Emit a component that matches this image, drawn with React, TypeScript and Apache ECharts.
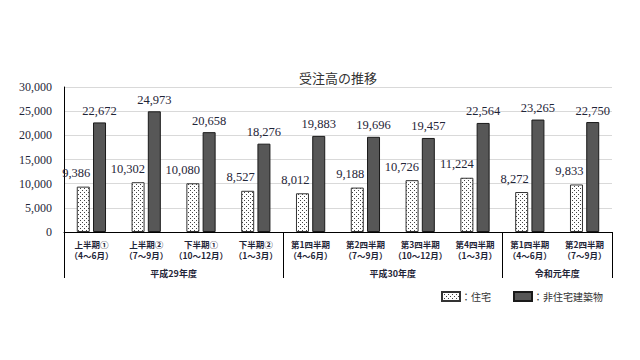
import React, { useEffect, useRef } from "react";
import * as echarts from "echarts";

const periodNames = ["上半期①", "上半期②", "下半期①", "下半期②", "第1四半期", "第2四半期", "第3四半期", "第4四半期", "第1四半期", "第2四半期"];
const periodMonths = ["（4～6月）", "（7～9月）", "（10～12月）", "（1～3月）", "（4～6月）", "（7～9月）", "（10～12月）", "（1～3月）", "（4～6月）", "（7～9月）"];
const housing = [9386, 10302, 10080, 8527, 8012, 9188, 10726, 11224, 8272, 9833];
const nonHousing = [22672, 24973, 20658, 18276, 19883, 19696, 19457, 22564, 23265, 22750];
const groupNames = ["平成29年度", "平成30年度", "令和元年度"];
const groupSizes = [4, 4, 2];
const seriesNames = ["住宅", "非住宅建築物"];

const SERIF = "'Liberation Serif', 'DejaVu Serif', serif";
const JP = "'Noto Sans CJK JP', sans-serif";
const INK = "#1f2538";

function makeDots() {
  const c = document.createElement("canvas");
  c.width = 4;
  c.height = 4;
  const ctx = c.getContext("2d")!;
  ctx.fillStyle = "#ffffff";
  ctx.fillRect(0, 0, 4, 4);
  ctx.fillStyle = "#444444";
  ctx.fillRect(0, 0, 1, 1);
  ctx.fillRect(2, 2, 1, 1);
  return c;
}

export default function App() {
  const ref = useRef<HTMLDivElement>(null);
  useEffect(() => {
    const chart = echarts.init(ref.current!, null, { renderer: "svg" });
    const dots = makeDots();
    const labelStyle = { show: true, position: "top", fontFamily: SERIF, fontSize: 12.5, color: INK };
    chart.setOption({
      animation: false,
      title: {
        text: "受注高の推移",
        left: 294,
        top: 66,
        textStyle: { fontFamily: JP, fontSize: 13, fontWeight: "normal", color: "#333" },
      },
      grid: { left: 64, right: 28, top: 87, bottom: 128 },
      legend: {
        left: 436,
        top: 286,
        itemWidth: 18,
        itemHeight: 9,
        itemGap: 22,
        icon: "rect",
        formatter: (n: string) => "：" + n,
        textStyle: { fontFamily: JP, fontSize: 10, color: "#333", padding: [0, 0, 0, -4] },
        data: seriesNames,
      },
      xAxis: {
        type: "category",
        data: periodNames.map((n, i) => n + periodMonths[i]),
        axisLine: { lineStyle: { color: "#000", width: 1 } },
        axisTick: { show: false },
        axisLabel: {
          interval: 0,
          margin: 6,
          fontFamily: JP,
          fontSize: 8.5,
          fontWeight: "bold",
          lineHeight: 11.5,
          color: INK,
          formatter: (_v: string, i: number) => periodNames[i] + "\n" + periodMonths[i],
        },
      },
      yAxis: {
        type: "value",
        min: 0,
        max: 30000,
        interval: 5000,
        axisLine: { show: true, lineStyle: { color: "#000" } },
        axisTick: { show: false },
        splitLine: { lineStyle: { color: "#d9d9d9" } },
        axisLabel: {
          fontFamily: SERIF,
          fontSize: 12,
          color: INK,
          margin: 12,
          formatter: (v: number) => v.toLocaleString("en-US"),
        },
      },
      series: [
        {
          name: seriesNames[0],
          type: "bar",
          data: housing,
          barWidth: 13,
          barGap: "25%",
          itemStyle: { color: { image: dots, repeat: "repeat" }, borderColor: "#333", borderWidth: 1 },
          label: {
            ...labelStyle,
            distance: 7,
            align: "right",
            offset: [7, 0],
            formatter: (p: any) => p.value.toLocaleString("en-US"),
          },
        },
        {
          name: seriesNames[1],
          type: "bar",
          data: nonHousing,
          barWidth: 13,
          itemStyle: { color: "#575757", borderColor: "#1a1a1a", borderWidth: 1 },
          label: { ...labelStyle, distance: 5, formatter: (p: any) => p.value.toLocaleString("en-US") },
        },
      ],
    });

    const x0 = chart.convertToPixel({ xAxisIndex: 0 }, 0) as number;
    const x1 = chart.convertToPixel({ xAxisIndex: 0 }, 1) as number;
    const band = x1 - x0;
    const yTop = chart.convertToPixel({ yAxisIndex: 0 }, 0) as number;
    const yBot = yTop + 46;
    const graphics: any[] = [];
    let start = 0;
    const boundaries: number[] = [0];
    groupSizes.forEach((sz, gi) => {
      const left = x0 - band / 2 + start * band;
      const right = left + sz * band;
      graphics.push({
        type: "text",
        x: (left + right) / 2,
        y: yTop + 41,
        style: {
          text: groupNames[gi],
          fontFamily: JP,
          fontSize: 9,
          fontWeight: "bold",
          fill: INK,
          align: "center",
          verticalAlign: "middle",
        },
      });
      start += sz;
      boundaries.push(start);
    });
    boundaries.forEach((b) => {
      const x = Math.round(x0 - band / 2 + b * band) + 0.5;
      graphics.push({
        type: "line",
        shape: { x1: x, y1: yTop, x2: x, y2: yBot },
        style: { stroke: "#000", lineWidth: 1 },
      });
    });
    chart.setOption({ graphic: graphics });

    return () => chart.dispose();
  }, []);
  return <div ref={ref} style={{ width: 640, height: 360, margin: -8 }} />;
}
